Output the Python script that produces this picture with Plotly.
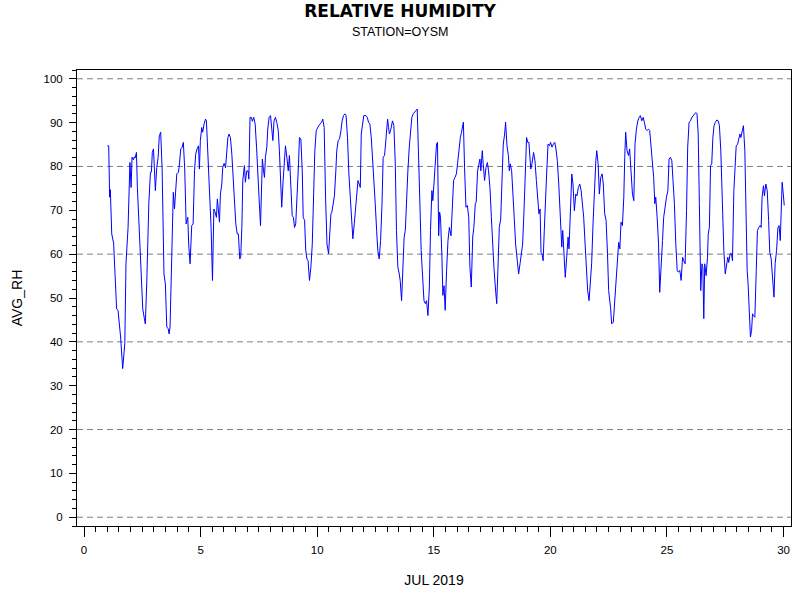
import plotly.graph_objects as go

# hourly-ish readings of AVG_RH for station OYSM, July 2019 (day of month)
days = [
    1.00, 1.06, 1.10, 1.13, 1.19, 1.27, 1.40, 1.46, 1.57, 1.66,
    1.75, 1.80, 1.89, 1.97, 2.02, 2.06, 2.12, 2.16, 2.19, 2.25,
    2.29, 2.37, 2.46, 2.52, 2.59, 2.63, 2.69, 2.78, 2.85, 2.89,
    2.93, 2.98, 3.02, 3.06, 3.12, 3.18, 3.23, 3.29, 3.35, 3.43,
    3.49, 3.55, 3.61, 3.65, 3.69, 3.75, 3.83, 3.88, 3.92, 3.98,
    4.05, 4.08, 4.15, 4.21, 4.26, 4.32, 4.38, 4.45, 4.49, 4.55,
    4.62, 4.68, 4.74, 4.79, 4.85, 4.91, 4.95, 4.99, 5.05, 5.09,
    5.15, 5.21, 5.25, 5.31, 5.36, 5.45, 5.51, 5.57, 5.62, 5.68,
    5.72, 5.77, 5.81, 5.85, 5.91, 5.95, 6.01, 6.07, 6.11, 6.17,
    6.22, 6.28, 6.34, 6.39, 6.45, 6.51, 6.57, 6.62, 6.68, 6.72,
    6.77, 6.81, 6.88, 6.92, 6.98, 7.04, 7.07, 7.12, 7.18, 7.22,
    7.28, 7.34, 7.40, 7.45, 7.51, 7.57, 7.61, 7.65, 7.70, 7.74,
    7.78, 7.84, 7.88, 7.94, 8.00, 8.05, 8.10, 8.15, 8.21, 8.27,
    8.33, 8.38, 8.44, 8.48, 8.54, 8.60, 8.64, 8.70, 8.76, 8.81,
    8.87, 8.93, 8.98, 9.03, 9.08, 9.14, 9.20, 9.24, 9.30, 9.36,
    9.40, 9.46, 9.51, 9.56, 9.61, 9.67, 9.73, 9.79, 9.84, 9.90,
    9.96, 10.01, 10.07, 10.13, 10.19, 10.24, 10.30, 10.36, 10.42, 10.49,
    10.54, 10.59, 10.63, 10.69, 10.74, 10.80, 10.84, 10.90, 10.96, 11.02,
    11.07, 11.13, 11.19, 11.24, 11.30, 11.36, 11.42, 11.47, 11.53, 11.59,
    11.69, 11.75, 11.80, 11.85, 11.89, 11.95, 12.00, 12.09, 12.15, 12.20,
    12.26, 12.32, 12.37, 12.43, 12.49, 12.55, 12.60, 12.66, 12.72, 12.78,
    12.83, 12.89, 12.95, 13.02, 13.06, 13.10, 13.16, 13.23, 13.29, 13.35,
    13.40, 13.46, 13.52, 13.56, 13.62, 13.68, 13.73, 13.78, 13.83, 13.89,
    13.95, 14.01, 14.06, 14.12, 14.18, 14.23, 14.29, 14.35, 14.41, 14.46,
    14.52, 14.58, 14.64, 14.69, 14.75, 14.81, 14.86, 14.92, 14.96, 15.01,
    15.06, 15.12, 15.16, 15.21, 15.25, 15.29, 15.35, 15.39, 15.44, 15.49,
    15.55, 15.61, 15.67, 15.74, 15.79, 15.85, 15.91, 15.97, 16.02, 16.08,
    16.14, 16.19, 16.27, 16.32, 16.38, 16.44, 16.50, 16.55, 16.61, 16.67,
    16.72, 16.78, 16.82, 16.88, 16.94, 16.98, 17.02, 17.08, 17.12, 17.18,
    17.24, 17.30, 17.35, 17.41, 17.47, 17.52, 17.58, 17.64, 17.70, 17.75,
    17.81, 17.87, 17.93, 17.98, 18.04, 18.08, 18.14, 18.20, 18.24, 18.28,
    18.34, 18.40, 18.45, 18.51, 18.57, 18.64, 18.70, 18.76, 18.81, 18.87,
    18.93, 18.98, 19.03, 19.08, 19.16, 19.21, 19.28, 19.34, 19.40, 19.46,
    19.51, 19.56, 19.60, 19.64, 19.69, 19.74, 19.80, 19.84, 19.90, 19.96,
    20.01, 20.07, 20.13, 20.19, 20.24, 20.30, 20.36, 20.42, 20.49, 20.53,
    20.59, 20.64, 20.70, 20.76, 20.80, 20.86, 20.92, 20.97, 21.03, 21.09,
    21.14, 21.20, 21.26, 21.32, 21.37, 21.43, 21.49, 21.55, 21.60, 21.66,
    21.72, 21.77, 21.83, 21.89, 21.95, 21.99, 22.05, 22.10, 22.16, 22.22,
    22.27, 22.33, 22.39, 22.45, 22.50, 22.58, 22.63, 22.70, 22.76, 22.82,
    22.88, 22.93, 22.98, 23.03, 23.09, 23.15, 23.19, 23.23, 23.29, 23.35,
    23.40, 23.46, 23.52, 23.58, 23.63, 23.69, 23.75, 23.81, 23.86, 23.92,
    23.98, 24.03, 24.09, 24.15, 24.21, 24.26, 24.32, 24.38, 24.43, 24.48,
    24.52, 24.58, 24.64, 24.69, 24.75, 24.81, 24.86, 24.92, 24.98, 25.04,
    25.09, 25.15, 25.21, 25.26, 25.32, 25.38, 25.44, 25.49, 25.55, 25.61,
    25.67, 25.72, 25.78, 25.84, 25.89, 25.95, 26.01, 26.07, 26.12, 26.18,
    26.24, 26.29, 26.34, 26.39, 26.45, 26.50, 26.54, 26.58, 26.62, 26.68,
    26.74, 26.77, 26.82, 26.87, 26.92, 26.97, 27.02, 27.08, 27.14, 27.20,
    27.25, 27.31, 27.37, 27.44, 27.50, 27.55, 27.61, 27.65, 27.71, 27.77,
    27.81, 27.87, 27.93, 27.97, 28.03, 28.08, 28.13, 28.17, 28.23, 28.28,
    28.34, 28.38, 28.44, 28.48, 28.54, 28.58, 28.63, 28.67, 28.71, 28.77,
    28.83, 28.88, 28.94, 29.00, 29.04, 29.08, 29.14, 29.18, 29.24, 29.30,
    29.36, 29.41, 29.47, 29.53, 29.59, 29.64, 29.70, 29.76, 29.81, 29.86,
    29.90, 29.94, 29.99, 30.03,
]

avg_rh = [
    84.7, 84.7, 73.0, 74.7, 64.6, 62.5, 47.5, 47.2, 41.1, 33.9,
    39.6, 57.8, 66.1, 80.9, 75.2, 82.1, 81.5, 82.2, 81.9, 83.2,
    75.2, 66.1, 54.7, 47.5, 45.3, 44.1, 53.2, 71.5, 78.7, 78.7,
    83.2, 84.0, 79.4, 74.5, 79.8, 82.1, 87.0, 87.8, 79.4, 55.5,
    53.2, 43.4, 43.0, 41.8, 43.4, 56.3, 74.1, 70.3, 74.5, 78.3,
    78.7, 79.8, 84.0, 84.4, 85.5, 79.4, 66.9, 68.4, 62.3, 57.8,
    66.5, 66.9, 79.0, 82.8, 84.0, 84.7, 79.4, 85.9, 88.9, 87.8,
    89.7, 90.8, 90.4, 82.8, 74.5, 66.1, 54.0, 70.3, 69.6, 68.4,
    72.6, 68.4, 67.3, 73.7, 76.0, 79.8, 80.7, 79.7, 83.6, 86.6,
    87.4, 86.6, 82.8, 77.5, 72.2, 66.9, 64.6, 64.6, 58.9, 59.3,
    66.1, 76.8, 80.2, 76.4, 79.0, 79.0, 77.1, 91.2, 91.2, 90.3,
    91.2, 89.7, 84.4, 76.8, 72.6, 66.5, 73.7, 81.7, 79.0, 77.5,
    82.1, 84.4, 88.5, 91.2, 91.6, 89.3, 85.9, 90.4, 91.2, 90.0,
    88.2, 83.6, 76.8, 70.7, 76.8, 80.6, 84.7, 82.1, 79.0, 82.5,
    76.8, 68.8, 68.4, 66.1, 66.9, 73.0, 80.6, 86.6, 86.3, 79.0,
    68.4, 67.7, 60.8, 58.9, 58.5, 54.0, 57.0, 62.3, 73.7, 83.6,
    88.2, 88.9, 89.3, 89.7, 90.1, 90.8, 88.9, 73.0, 62.3, 60.1,
    63.9, 69.2, 69.6, 71.5, 73.3, 79.0, 83.6, 85.9, 86.3, 88.2,
    90.4, 91.6, 92.0, 91.6, 86.6, 78.3, 73.7, 68.4, 63.5, 66.9,
    73.7, 76.8, 76.0, 75.2, 87.4, 90.4, 91.6, 91.6, 91.2, 90.1,
    89.7, 86.6, 82.8, 77.5, 71.5, 65.4, 60.8, 58.9, 63.1, 71.5,
    82.1, 82.5, 87.4, 90.8, 88.9, 87.4, 88.5, 90.4, 89.3, 80.6,
    65.4, 57.0, 55.5, 54.0, 49.4, 60.1, 63.9, 65.4, 73.0, 79.0,
    84.4, 88.2, 91.2, 92.0, 92.3, 92.7, 93.1, 83.6, 70.7, 60.8,
    54.7, 49.4, 48.7, 49.4, 46.0, 52.5, 65.4, 74.5, 72.2, 76.8,
    81.3, 85.1, 85.5, 64.2, 69.6, 68.4, 59.3, 50.6, 52.8, 47.2,
    56.3, 63.1, 66.1, 64.2, 69.9, 76.8, 77.5, 78.3, 80.6, 84.4,
    86.6, 87.8, 90.1, 79.8, 70.7, 71.1, 68.4, 57.0, 52.5, 63.9,
    66.1, 71.5, 71.9, 79.0, 80.6, 81.7, 79.0, 83.6, 80.6, 76.8,
    79.8, 80.9, 79.0, 75.2, 68.4, 61.6, 57.0, 52.5, 48.7, 56.3,
    66.1, 68.0, 79.0, 85.1, 87.4, 90.1, 84.7, 82.5, 79.0, 80.6,
    79.0, 74.5, 68.4, 62.3, 58.5, 55.5, 57.8, 60.1, 62.3, 69.9,
    77.5, 86.6, 85.5, 85.5, 79.4, 80.6, 83.2, 81.3, 76.8, 72.2,
    69.2, 70.3, 60.4, 60.1, 58.5, 65.4, 71.5, 78.3, 85.1, 84.7,
    85.5, 84.4, 85.1, 85.5, 84.0, 81.3, 76.0, 69.9, 61.6, 65.4,
    60.8, 54.7, 59.3, 63.9, 61.2, 69.9, 78.3, 76.0, 69.9, 73.7,
    73.3, 75.2, 76.0, 74.5, 71.5, 68.4, 62.3, 55.5, 51.7, 49.4,
    54.7, 57.8, 66.9, 75.2, 81.3, 83.6, 80.6, 73.7, 77.5, 78.3,
    76.0, 69.2, 67.7, 60.1, 51.7, 47.9, 44.1, 44.5, 48.7, 53.2,
    59.3, 62.7, 61.2, 67.3, 66.5, 73.0, 82.1, 87.8, 83.6, 82.5,
    84.0, 77.5, 73.7, 72.2, 85.1, 88.5, 90.4, 91.2, 91.6, 90.4,
    91.2, 90.1, 88.5, 88.2, 88.5, 88.2, 84.4, 80.6, 77.5, 71.5,
    73.0, 68.4, 62.3, 51.3, 56.3, 63.1, 68.4, 71.5, 73.0, 74.5,
    81.7, 82.1, 81.3, 76.8, 71.5, 62.3, 56.3, 55.9, 56.3, 54.0,
    59.3, 58.5, 57.8, 69.9, 84.4, 90.1, 90.4, 91.2, 91.6, 92.0,
    92.3, 92.0, 87.4, 71.5, 51.7, 57.8, 57.0, 45.3, 57.8, 55.1,
    59.3, 64.6, 66.1, 80.2, 80.6, 86.6, 89.3, 90.1, 90.6, 90.4,
    89.3, 83.6, 71.5, 60.8, 55.5, 57.0, 59.3, 58.1, 60.1, 60.1,
    58.5, 74.5, 82.8, 84.7, 85.1, 86.6, 87.4, 86.6, 88.2, 89.3,
    83.6, 71.5, 56.3, 53.2, 45.6, 41.1, 42.6, 46.4, 46.0, 45.6,
    56.3, 65.4, 66.1, 66.5, 66.1, 73.0, 75.6, 73.3, 76.0, 74.5,
    67.7, 60.4, 58.9, 54.0, 50.2, 57.8, 60.8, 66.1, 66.5, 63.1,
    69.9, 76.4, 73.7, 71.1,
]

# reference lines drawn across the plot
ref_levels = [0, 20, 40, 60, 80, 100]

assert len(days) == len(avg_rh)

FONT = "Liberation Sans, Arial, sans-serif"

fig = go.Figure()

for level in ref_levels:
    fig.add_shape(type="line", xref="paper", x0=0, x1=1, yref="y", y0=level, y1=level,
                  line=dict(color="#808080", width=1, dash="6px,4px"), layer="below")

fig.add_trace(go.Scatter(x=days, y=avg_rh, mode="lines",
                         line=dict(color="#0000FF", width=1), showlegend=False))

fig.update_layout(
    width=800, height=600,
    margin=dict(l=77, r=9, t=70, b=74, autoexpand=False),
    paper_bgcolor="white", plot_bgcolor="white",
    font=dict(family=FONT, size=11.5, color="black"),
    title=dict(text="<b>RELATIVE HUMIDITY</b>", x=0.5, xanchor="center",
               yref="container", y=1 - 11 / 600, yanchor="middle", automargin=False,
               font=dict(family="DejaVu Sans, sans-serif", size=17, color="black")),
    # subtitle is centred on the page, like the title (not on the plot area)
    annotations=[dict(text="STATION=OYSM", xref="paper", yref="paper", x=(400 - 77) / 714, y=1.084,
                      xanchor="center", yanchor="middle", showarrow=False,
                      font=dict(family=FONT, size=12.5, color="black"))],
)

fig.update_xaxes(
    range=[-0.3, 30.32], tick0=0, dtick=5, ticks="outside", ticklen=10, tickwidth=1,
    tickcolor="black", showline=True, linecolor="black", linewidth=1, mirror=True,
    showgrid=False, zeroline=False, automargin=False, ticklabelstandoff=3,
    minor=dict(dtick=0.5, ticks="outside", ticklen=5, tickcolor="black", tickwidth=1, showgrid=False),
    title=dict(text="JUL 2019", standoff=20),
)

fig.update_yaxes(
    range=[-2, 102], tick0=0, dtick=10, ticks="outside", ticklen=7, tickwidth=1,
    tickcolor="black", showline=True, linecolor="black", linewidth=1, mirror=True,
    showgrid=False, zeroline=False, automargin=False, ticklabelstandoff=4,
    minor=dict(dtick=2, ticks="outside", ticklen=4, tickcolor="black", tickwidth=1, showgrid=False),
    title=dict(text="AVG_RH", standoff=17),
)

# the page body has a default 8px margin; drop it so the figure sits at the window origin
fig.write_html("out.html", config={"displayModeBar": False},
               post_script="document.body.style.margin = '0';")
